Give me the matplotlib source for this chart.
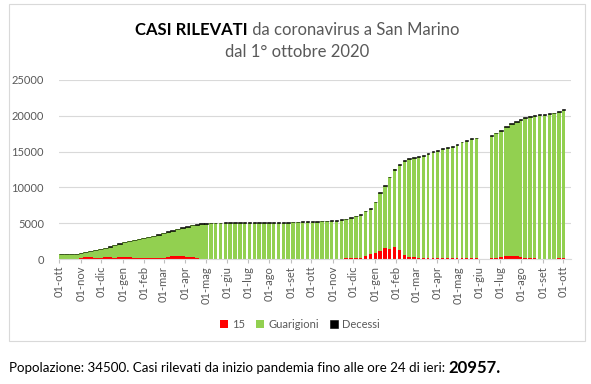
import numpy as np
import pandas as pd
import matplotlib.pyplot as plt
from matplotlib.patches import Rectangle

# Dati settimanali (dal 1 ottobre 2020)
date = pd.date_range('2020-10-01', periods=105, freq='7D')

totale = [720, 720, 725, 740, 820, 960, 1120, 1260, 1420, 1580,
          1750, 1950, 2180, 2420, 2550, 2680, 2800, 2960, 3100, 3250,
          3430, 3650, 3850, 4050, 4250, 4450, 4600, 4780, 4900, 4960,
          5000, 5050, 5080, 5090, 5100, 5100, 5100, 5100, 5105, 5105,
          5110, 5110, 5115, 5120, 5130, 5140, 5150, 5170, 5190, 5220,
          5250, 5270, 5290, 5310, 5330, 5370, 5400, 5450, 5530, 5650,
          5830, 6050, 6300, 6750, 7100, 8000, 9300, 10300, 11500, 12600,
          13300, 13850, 14050, 14200, 14400, 14550, 14800, 15050, 15250, 15450,
          15600, 15800, 16100, 16400, 16650, 16850, 16950, np.nan, np.nan, 17350,
          17650, 17950, 18550, 18950, 19250, 19550, 19800, 19950, 20100, 20200,
          20280, 20380, 20450, 20650, 20957]

positivi = [0, 0, 0, 0, 80, 280, 280, 200, 100, 230,
            230, 200, 230, 230, 230, 150, 90, 90, 90, 120,
            190, 190, 330, 350, 350, 350, 330, 230, 90, 0,
            0, 0, 0, 0, 0, 0, 0, 0, 0, 0,
            0, 0, 0, 0, 0, 0, 0, 0, 0, 0,
            0, 0, 0, 0, 0, 0, 0, 0, 0, 140,
            140, 190, 190, 420, 700, 880, 1160, 1540, 1450, 1680,
            1260, 560, 280, 280, 100, 100, 150, 120, 150, 150,
            100, 150, 150, 100, 150, 120, 150, np.nan, np.nan, 120,
            150, 250, 470, 470, 400, 250, 150, 120, 80, 60,
            40, 60, 50, 80, 100]

decessi = [42, 42, 43, 44, 45, 47, 49, 51, 53, 55,
           57, 59, 61, 63, 65, 67, 69, 70, 72, 74,
           76, 78, 80, 82, 84, 86, 87, 88, 89, 90,
           90, 90, 90, 90, 90, 90, 90, 90, 90, 90,
           90, 90, 90, 90, 90, 90, 90, 90, 90, 90,
           90, 90, 90, 90, 90, 90, 90, 90, 90, 90,
           90, 91, 92, 93, 94, 95, 96, 97, 98, 100,
           102, 104, 106, 107, 108, 109, 110, 111, 112, 113,
           114, 115, 115, 116, 116, 117, 117, np.nan, np.nan, 117,
           117, 118, 118, 119, 119, 120, 120, 120, 121, 121,
           121, 122, 122, 122, 122]

# periodi con dati giornalieri (barre unite) e con barre strette
giornalieri = [('2020-10-01', '2021-04-28'), ('2022-07-05', '2022-07-27')]
stretti = [('2022-03-01', '2022-06-01')]

mesi = ['gen', 'feb', 'mar', 'apr', 'mag', 'giu', 'lug', 'ago', 'set', 'ott', 'nov', 'dic']
tick_date = pd.date_range('2020-10-01', '2022-10-01', freq='MS')

totale = np.array(totale, dtype=float)
positivi = np.array(positivi, dtype=float)
decessi = np.array(decessi, dtype=float)
guarigioni = totale - positivi - decessi


def in_periodo(d, periodi):
    return any(pd.Timestamp(a) <= d <= pd.Timestamp(b) for a, b in periodi)


larghezze = []
for d in date:
    if in_periodo(d, giornalieri):
        larghezze.append(7.0)
    elif in_periodo(d, stretti):
        larghezze.append(4.0)
    else:
        larghezze.append(5.0)

plt.rcParams['font.family'] = ['Lato', 'DejaVu Sans']
grigio = '#595959'

fig = plt.figure(figsize=(5.91, 3.84), dpi=100)
ax = fig.add_axes([59.3 / 591, 1 - 259 / 384, (571 - 59.3) / 591, (259 - 80) / 384])

ax.bar(date, positivi, width=larghezze, align='edge', color='#FF0000', linewidth=0, label='15')
ax.bar(date, guarigioni, width=larghezze, align='edge', bottom=positivi, color='#92D050',
       linewidth=0, label='Guarigioni')
ax.bar(date, decessi, width=larghezze, align='edge', bottom=positivi + guarigioni, color='black',
       edgecolor='black', linewidth=0.4, label='Decessi')

ax.set_xlim(pd.Timestamp('2020-10-01'), pd.Timestamp('2022-10-12'))
ax.set_ylim(0, 25000)
ax.set_yticks(range(0, 25001, 5000))
ax.yaxis.grid(True, color='#D9D9D9', linewidth=0.8)
ax.set_axisbelow(True)
ax.tick_params(axis='y', length=0, pad=11, labelsize=8, labelcolor=grigio)

ax.set_xticks(tick_date)
ax.set_xticklabels(['01-' + mesi[d.month - 1] for d in tick_date], rotation=90)
ax.tick_params(axis='x', length=3, width=0.8, color='#BFBFBF', labelsize=8,
               labelcolor=grigio, pad=2)

for lato in ['top', 'right', 'left']:
    ax.spines[lato].set_visible(False)
ax.spines['bottom'].set_color('#D9D9D9')
ax.spines['bottom'].set_linewidth(0.8)

# cornice del grafico
fig.patches.append(Rectangle((9 / 591, 1 - 341 / 384), (585 - 9) / 591, (341 - 4) / 384,
                             transform=fig.transFigure, fill=False, edgecolor='#D9D9D9',
                             linewidth=0.8))

# titolo con parte in grassetto
fig.canvas.draw()
r = fig.canvas.get_renderer()
t1 = fig.text(0, 1 - 30 / 384, 'CASI RILEVATI', fontsize=12, fontweight='bold', va='center')
t2 = fig.text(0, 1 - 30 / 384, ' da coronavirus a San Marino', fontsize=12, color=grigio,
              va='center')
w1 = t1.get_window_extent(r).width
w2 = t2.get_window_extent(r).width
x0 = (297 - (w1 + w2) / 2) / 591
t1.set_x(x0)
t2.set_x(x0 + w1 / 591)
fig.text(297 / 591, 1 - 52 / 384, 'dal 1° ottobre 2020', fontsize=12, color=grigio,
         ha='center', va='center')

ax.legend(loc='center', bbox_to_anchor=(300 / 591, 1 - 324 / 384), bbox_transform=fig.transFigure,
          ncol=3, frameon=False, fontsize=8, handlelength=0.7, handleheight=0.7,
          handletextpad=0.4, columnspacing=1.0, labelcolor=grigio)

# nota in basso
n1 = fig.text(9 / 591, 1 - 368 / 384,
              'Popolazione: 34500. Casi rilevati da inizio pandemia fino alle ore 24 di ieri: ',
              fontsize=9.6, va='center')
wn = n1.get_window_extent(r).width
fig.text((9 + wn) / 591, 1 - 368 / 384, '20957.', fontsize=12, fontweight='bold', va='center')

fig.savefig('out.png', dpi=100)
